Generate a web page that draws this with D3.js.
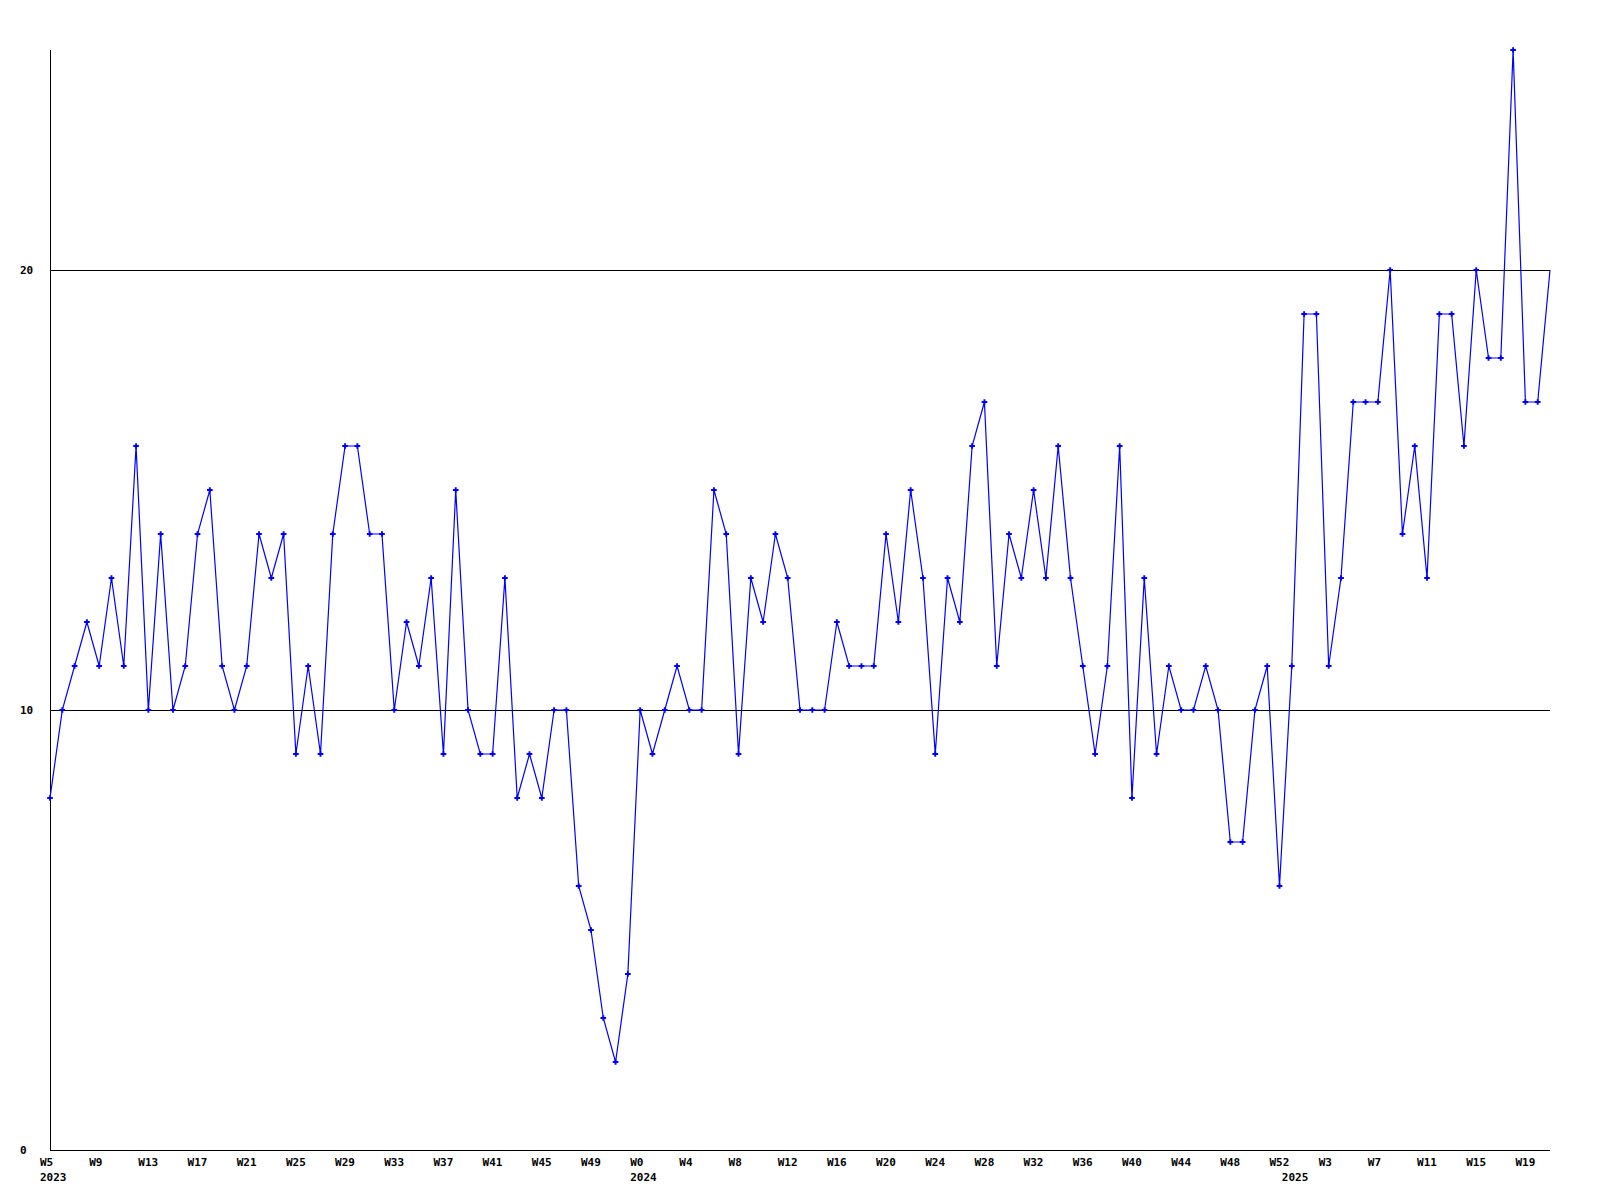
<!DOCTYPE html>
<html>
<head>
<meta charset="utf-8">
<script src="https://cdn.jsdelivr.net/npm/d3@7"></script>
<style>
  html, body { margin: 0; padding: 0; background: #fff; }
  svg text { font-family: "DejaVu Sans Mono", "Liberation Mono", monospace; font-weight: bold; font-size: 11px; fill: #000; }
</style>
</head>
<body>
<svg id="chart" width="1600" height="1200"></svg>
<script>
// ---- data ----
const years = [
  ...Array(48).fill(2023),
  ...Array(53).fill(2024),
  ...Array(22).fill(2025)
];
const weeks = [
  5,6,7,8,9,10,11,12,13,14,15,16,17,18,19,20,21,22,23,24,25,26,27,28,29,30,31,32,33,34,35,36,37,38,39,40,41,42,43,44,45,46,47,48,49,50,51,52,
  0,1,2,3,4,5,6,7,8,9,10,11,12,13,14,15,16,17,18,19,20,21,22,23,24,25,26,27,28,29,30,31,32,33,34,35,36,37,38,39,40,41,42,43,44,45,46,47,48,49,50,51,52,
  0,1,2,3,4,5,6,7,8,9,10,11,12,13,14,15,16,17,18,19,20,21
];
const values = [
  8,10,11,12,11,13,11,16,10,14,10,11,14,15,11,10,11,14,13,14,9,11,9,14,16,16,14,14,10,12,11,13,9,15,10,9,9,13,8,9,8,10,10,6,5,3,2,4,
  10,9,10,11,10,10,15,14,9,13,12,14,13,10,10,10,12,11,11,11,14,12,15,13,9,13,12,16,17,11,14,13,15,13,16,13,11,9,11,16,8,13,9,11,10,10,11,10,7,7,10,11,6,
  11,19,19,11,13,17,17,17,20,14,16,13,19,19,16,20,18,18,25,17,17,20
];
const yTicks = [0, 10, 20];
const categories = weeks.map((w, i) => years[i] + "-W" + w);

// ---- layout ----
const mLeft = 50, mRight = 1550, mTop = 50, mBottom = 1150;
const svg = d3.select("#chart");

const x = d3.scalePoint().domain(categories).range([mLeft, mRight]).padding(0);
const y = d3.scaleLinear().domain([0, 25]).range([mBottom, mTop]);

// gridlines
svg.append("g").selectAll("line").data(yTicks.filter(t => t > 0)).join("line")
  .attr("x1", mLeft).attr("x2", mRight)
  .attr("y1", d => Math.round(y(d)) + 0.5).attr("y2", d => Math.round(y(d)) + 0.5)
  .attr("stroke", "#000").attr("stroke-width", 1).attr("shape-rendering", "crispEdges");

// axes lines
svg.append("line").attr("x1", mLeft + 0.5).attr("x2", mLeft + 0.5).attr("y1", mTop).attr("y2", mBottom)
  .attr("stroke", "#000").attr("shape-rendering", "crispEdges");
svg.append("line").attr("x1", mLeft).attr("x2", mRight).attr("y1", mBottom + 0.5).attr("y2", mBottom + 0.5)
  .attr("stroke", "#000").attr("shape-rendering", "crispEdges");

// y labels
svg.append("g").selectAll("text").data(yTicks).join("text")
  .attr("x", 20).attr("y", d => y(d) + 4)
  .text(d => d);

// x labels every 4th point
const idx = d3.range(categories.length);
svg.append("g").selectAll("text").data(idx.filter(i => i % 4 === 0)).join("text")
  .attr("x", i => x(categories[i]) - 10).attr("y", 1166)
  .text(i => "W" + weeks[i]);

// year labels at first point of each year
svg.append("g").selectAll("text").data(idx.filter(i => i === 0 || years[i] !== years[i - 1])).join("text")
  .attr("x", i => x(categories[i]) - 10).attr("y", 1181)
  .text(i => years[i]);

// clip (last marker at right edge is not shown in reference)
svg.append("clipPath").attr("id", "clip").append("rect")
  .attr("x", mLeft - 5).attr("y", mTop - 5).attr("width", mRight - mLeft + 2).attr("height", mBottom - mTop + 10);

// line
const line = d3.line().x((d, i) => x(categories[i])).y(d => y(d));
svg.append("path").datum(values)
  .attr("d", line).attr("fill", "none").attr("stroke", "#0000ff").attr("stroke-width", 1.2);

// markers
const sym = d3.symbol(d3.symbolCross, 18);
svg.append("g").attr("clip-path", "url(#clip)").selectAll("path").data(values).join("path")
  .attr("transform", (d, i) => `translate(${x(categories[i])},${y(d)})`)
  .attr("d", sym).attr("fill", "#0000ff");
</script>
</body>
</html>
